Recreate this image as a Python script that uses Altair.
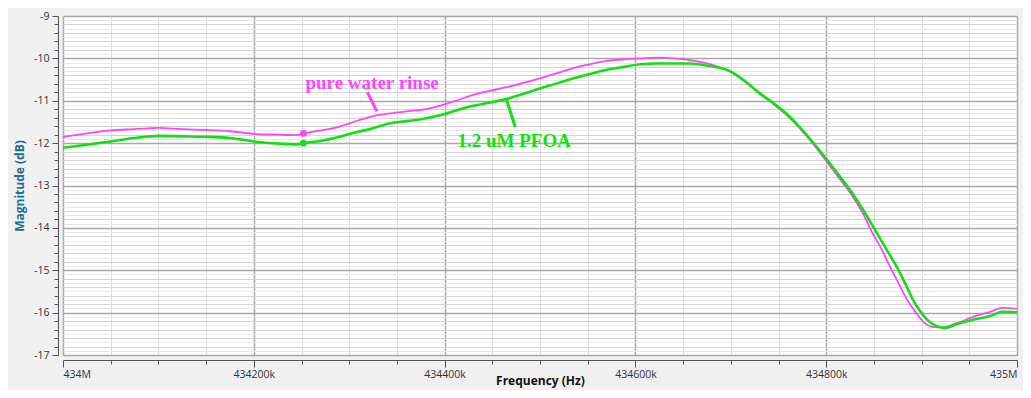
import altair as alt
import pandas as pd

# Frequency in kHz, magnitude in dB
freq_pure = [434000, 434025, 434050, 434075, 434100, 434125, 434150, 434175, 434200, 434225,
             434245, 434252, 434270, 434290, 434310, 434325, 434345, 434365, 434381, 434395,
             434412, 434430, 434448, 434465, 434482, 434500, 434518, 434535, 434552, 434570,
             434588, 434605, 434623, 434640, 434657, 434675, 434699, 434715, 434730, 434746,
             434762, 434780, 434797, 434812, 434828, 434840, 434848, 434858, 434867, 434876,
             434885, 434894, 434902, 434912, 434922, 434937, 434954, 434972, 434985, 435000]
mag_pure = [-11.85, -11.77, -11.70, -11.67, -11.64, -11.67, -11.69, -11.72, -11.78, -11.80,
            -11.81, -11.77, -11.70, -11.61, -11.46, -11.36, -11.29, -11.24, -11.20, -11.12,
            -11.00, -10.86, -10.76, -10.68, -10.58, -10.47, -10.35, -10.23, -10.14, -10.06,
            -10.02, -10.00, -9.98, -10.00, -10.04, -10.12, -10.31, -10.55, -10.82, -11.10,
            -11.41, -11.85, -12.33, -12.78, -13.27, -13.72, -14.10, -14.50, -14.92, -15.31,
            -15.70, -16.00, -16.22, -16.34, -16.35, -16.25, -16.10, -15.98, -15.89, -15.91]

freq_pfoa = [434000, 434025, 434050, 434075, 434100, 434125, 434150, 434175, 434200, 434225,
             434245, 434252, 434270, 434290, 434308, 434325, 434343, 434360, 434377, 434395,
             434412, 434430, 434448, 434465, 434482, 434500, 434518, 434535, 434552, 434570,
             434588, 434605, 434623, 434640, 434657, 434675, 434699, 434715, 434730, 434746,
             434762, 434780, 434797, 434812, 434828, 434840, 434853, 434863, 434874, 434883,
             434891, 434898, 434906, 434916, 434925, 434937, 434954, 434972, 434985, 435000]
mag_pfoa = [-12.11, -12.04, -11.96, -11.88, -11.83, -11.84, -11.85, -11.88, -11.96, -12.01,
            -12.03, -12.00, -11.95, -11.85, -11.74, -11.65, -11.53, -11.48, -11.43, -11.34,
            -11.23, -11.12, -11.04, -10.96, -10.84, -10.71, -10.59, -10.47, -10.37, -10.27,
            -10.20, -10.14, -10.12, -10.12, -10.12, -10.17, -10.30, -10.54, -10.82, -11.08,
            -11.38, -11.82, -12.28, -12.72, -13.20, -13.62, -14.12, -14.50, -14.92, -15.32,
            -15.70, -15.95, -16.17, -16.32, -16.36, -16.27, -16.17, -16.08, -15.98, -15.99]

series_names = ["pure water rinse", "1.2 uM PFOA"]
series_colors = ["#ff44ff", "#10e010"]
series_widths = [1.8, 2.6]

# markers
marker_freq = [434252, 434252]
marker_mag = [-11.77, -12.00]

# annotations
label_text = ["pure water rinse", "1.2 uM PFOA"]
label_freq = [434324, 434473]
label_mag = [-10.58, -11.95]
pointer_f1 = [434319, 434465]
pointer_f2 = [434329, 434474]
pointer_v1 = [-10.80, -10.98]
pointer_v2 = [-11.25, -11.62]

x_ticks = [434000 + 50 * i for i in range(21)]
y_ticks = [round(-17 + 0.1 * i, 1) for i in range(81)]

lines_df = pd.concat([
    pd.DataFrame({"f": freq_pure, "v": mag_pure, "s": series_names[0]}),
    pd.DataFrame({"f": freq_pfoa, "v": mag_pfoa, "s": series_names[1]}),
])
marker_df = pd.DataFrame({"f": marker_freq, "v": marker_mag, "s": series_names})
label_df = pd.DataFrame({"f": label_freq, "v": label_mag, "s": series_names, "t": label_text})
pointer_df = pd.DataFrame({"f": pointer_f1, "f2": pointer_f2, "v": pointer_v1, "v2": pointer_v2,
                           "s": series_names})

xscale = alt.Scale(domain=[434000, 435000], nice=False, zero=False)
yscale = alt.Scale(domain=[-17, -9], nice=False, zero=False)
cscale = alt.Scale(domain=series_names, range=series_colors)

xmajor = "datum.value % 200 === 0"
ymajor = "abs(datum.value - round(datum.value)) < 0.001"
ymid = "abs(datum.value * 5 - round(datum.value * 5)) < 0.001"

xaxis = alt.Axis(
    title="Frequency (Hz)", values=x_ticks, offset=5,
    labelExpr="datum.value % 1000 === 0 ? (datum.value / 1000) + 'M' : (datum.value % 200 === 0 ? datum.value + 'k' : '')",
    labelOverlap=False, labelFont="Open Sans", labelFontSize=10.5, labelColor="#333333",
    labelPadding=2, titleFont="Open Sans", titleFontSize=12, titleFontWeight="bold",
    titleColor="#111111", titlePadding=-4,
    domainColor="#555555", tickColor="#555555",
    tickSize={"condition": {"test": xmajor, "value": 7}, "value": 4},
    gridColor={"condition": {"test": xmajor, "value": "#a8a8a8"}, "value": "#dedede"},
    gridWidth={"condition": {"test": xmajor, "value": 1.5}, "value": 1},
)
yaxis = alt.Axis(
    title="Magnitude (dB)", values=y_ticks, offset=5,
    labelExpr="abs(datum.value - round(datum.value)) < 0.001 ? '' + round(datum.value) : ''",
    labelOverlap=False, labelFont="Open Sans", labelFontSize=10.5, labelColor="#333333",
    labelPadding=3, titleFont="Open Sans", titleFontSize=12, titleFontWeight="bold",
    titleColor="#1b6e94", titlePadding=7,
    domainColor="#555555", tickColor="#555555",
    tickSize={"condition": [{"test": ymajor, "value": 6}, {"test": ymid, "value": 4}], "value": 0},
    gridColor={"condition": [{"test": ymajor, "value": "#a8a8a8"}, {"test": ymid, "value": "#d4d4d4"}],
               "value": "#e8e8e8"},
    gridWidth={"condition": {"test": ymajor, "value": 1.5}, "value": 1},
)

X = alt.X("f:Q", scale=xscale, axis=xaxis)
Y = alt.Y("v:Q", scale=yscale, axis=yaxis)
C = alt.Color("s:N", scale=cscale, legend=None)
W = alt.StrokeWidth("s:N", scale=alt.Scale(domain=series_names, range=series_widths), legend=None)

lines = alt.Chart(lines_df).mark_line(interpolate="monotone").encode(
    x=X, y=Y, color=C, strokeWidth=W, detail="s:N")
points = alt.Chart(marker_df).mark_circle(size=45, opacity=1).encode(x=X, y=Y, color=C)
pointers = alt.Chart(pointer_df).mark_rule(strokeWidth=3).encode(
    x=X, x2="f2:Q", y=Y, y2="v2:Q", color=C)
labels = alt.Chart(label_df).mark_text(
    font="Liberation Serif", fontSize=19, fontWeight="bold", align="center", baseline="middle"
).encode(x=X, y=Y, text="t:N", color=C)

chart = alt.layer(lines, pointers, points, labels).properties(
    width=954, height=339,
    autosize=alt.AutoSizeParams(type="none"),
    padding={"left": 55, "top": 8, "right": 6, "bottom": 35},
    background="#f0f0f0",
).configure_view(fill="white", stroke="#cccccc")

chart.save("out.html", embed_options={"renderer": "svg", "actions": False})
